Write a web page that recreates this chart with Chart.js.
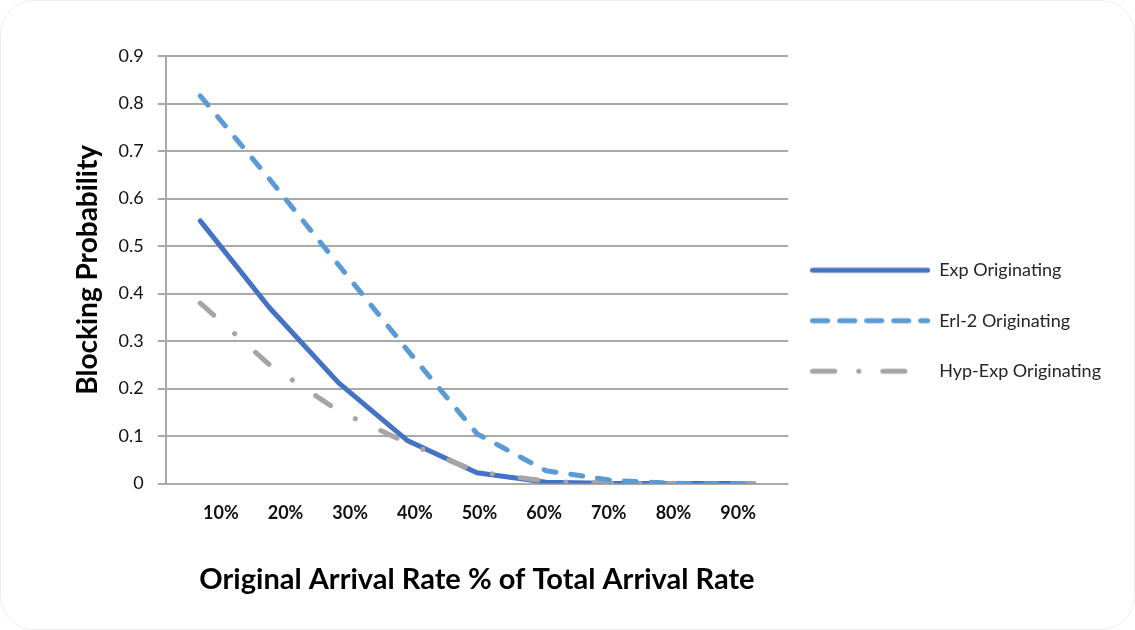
<!DOCTYPE html>
<html>
<head>
<meta charset="utf-8">
<script src="https://cdn.jsdelivr.net/npm/chart.js@4/dist/chart.umd.min.js"></script>
<style>
  html, body { margin: 0; padding: 0; background: #fff; }
  #wrap { position: relative; width: 1135px; height: 630px; }
  #frame {
    position: absolute; left: 0; top: 0; right: 0; bottom: 0;
    border: 1px solid #ededed; border-radius: 34px; pointer-events: none;
  }
</style>
</head>
<body>
<div id="wrap">
  <canvas id="myChart"></canvas>
  <div id="frame"></div>
</div>
<script>
// categories
const rates = ["10%", "20%", "30%", "40%", "50%", "60%", "70%", "80%", "90%"];
const rateTicks = [10, 20, 30, 40, 50, 60, 70, 80, 90];

// blocking probability per originating arrival process
const expOrig = [0.553, 0.37, 0.212, 0.09, 0.023, 0.003, 0, 0, 0];
const erl2Orig = [0.816, 0.641, 0.46, 0.28, 0.105, 0.027, 0.006, 0, 0];
const hypExpOrig = [0.38, 0.25, 0.153, 0.085, 0.025, 0.005, 0, 0, 0];

// y axis ticks
const yMin = 0;
const yMax = 0.9;
const yStep = 0.1;

const FONT = "Lato, 'Open Sans', sans-serif";
const gridGray = "#a9a9a9";

// small canvas used as the legend sample (keeps the dash pattern)
function swatch(color, dash) {
  const c = document.createElement("canvas");
  c.width = 120;
  c.height = 8;
  const g = c.getContext("2d");
  g.strokeStyle = color;
  g.lineWidth = 5;
  g.lineCap = "round";
  g.setLineDash(dash);
  g.beginPath();
  g.moveTo(2.5, 4);
  g.lineTo(117.5, 4);
  g.stroke();
  return c;
}

var ctx = document.getElementById("myChart").getContext("2d");
var chart = new Chart(ctx, {
  type: "line",
  data: {
    labels: rates,
    datasets: [
      {
        label: "Exp Originating",
        data: expOrig,
        borderColor: "#4472c4",
        backgroundColor: "#4472c4",
        borderWidth: 5,
        borderCapStyle: "round",
        borderJoinStyle: "round",
        pointRadius: 0,
        pointStyle: swatch("#4472c4", []),
        order: 3,
      },
      {
        label: "Erl-2 Originating",
        data: erl2Orig,
        borderColor: "#5b9bd5",
        backgroundColor: "#5b9bd5",
        borderWidth: 5,
        borderDash: [12, 15],
        borderCapStyle: "round",
        pointRadius: 0,
        pointStyle: swatch("#5b9bd5", [15, 12]),
        order: 1,
      },
      {
        label: "Hyp-Exp Originating",
        data: hypExpOrig,
        borderColor: "#a5a5a5",
        backgroundColor: "#a5a5a5",
        borderWidth: 5,
        borderDash: [18, 28, 0.1, 28],
        borderCapStyle: "round",
        pointRadius: 0,
        pointStyle: swatch("#a5a5a5", [22, 24, 0.1, 24]),
        order: 2,
      },
    ],
  },
  options: {
    responsive: true,
    maintainAspectRatio: false,
    animation: false,
    layout: { padding: { left: 71, top: 34, right: 24, bottom: 12 } },
    plugins: {
      tooltip: { enabled: false },
      legend: {
        position: "right",
        maxWidth: 400,
        labels: {
          usePointStyle: true,
          pointStyleWidth: 120,
          boxHeight: 18,
          padding: 22,
          color: "#262626",
          font: { family: FONT, size: 18, lineHeight: 28.5 / 18 },
          sort: (a, b) => a.datasetIndex - b.datasetIndex,
          // one-line arrays so each row takes the full line height
          generateLabels: (ch) =>
            Chart.defaults.plugins.legend.labels
              .generateLabels(ch)
              .map((item) => Object.assign(item, { text: [item.text] })),
        },
      },
    },
    scales: {
      // data axis: one slot per category
      x: {
        type: "category",
        display: false,
        offset: true,
      },
      // axis carrying the printed rate labels
      xl: {
        type: "linear",
        position: "bottom",
        min: 1.47,
        max: 97.75,
        afterBuildTicks: (axis) => {
          axis.ticks = rateTicks.map((v) => ({ value: v }));
        },
        grid: { display: false, drawTicks: false },
        border: { display: false },
        ticks: {
          padding: 19,
          color: "#111",
          font: { family: FONT, size: 18, weight: "bold" },
          callback: (v) => v + "%",
        },
        title: {
          display: true,
          text: "Original Arrival Rate % of Total Arrival Rate",
          color: "#000",
          font: { family: FONT, size: 29, weight: "bold" },
          padding: { top: 19, bottom: 21 },
        },
      },
      // empty band above the plot
      pad: {
        type: "linear",
        position: "top",
        min: 0,
        max: 1,
        grid: { display: false, drawTicks: false },
        border: { display: false },
        ticks: { display: false },
        afterFit: (axis) => {
          axis.height = 22;
        },
      },
      y: {
        min: yMin,
        max: yMax,
        grid: { color: gridGray, lineWidth: 2, tickLength: 8 },
        border: { color: gridGray, width: 2 },
        ticks: {
          stepSize: yStep,
          padding: 14,
          color: "#111",
          font: { family: FONT, size: 18 },
          callback: (v) => (Math.round(v * 10) / 10).toString(),
        },
        title: {
          display: true,
          text: "Blocking Probability",
          color: "#000",
          font: { family: FONT, size: 28, weight: "bold" },
          padding: { top: 0, bottom: 0 },
        },
      },
    },
  },
});
</script>
</body>
</html>
